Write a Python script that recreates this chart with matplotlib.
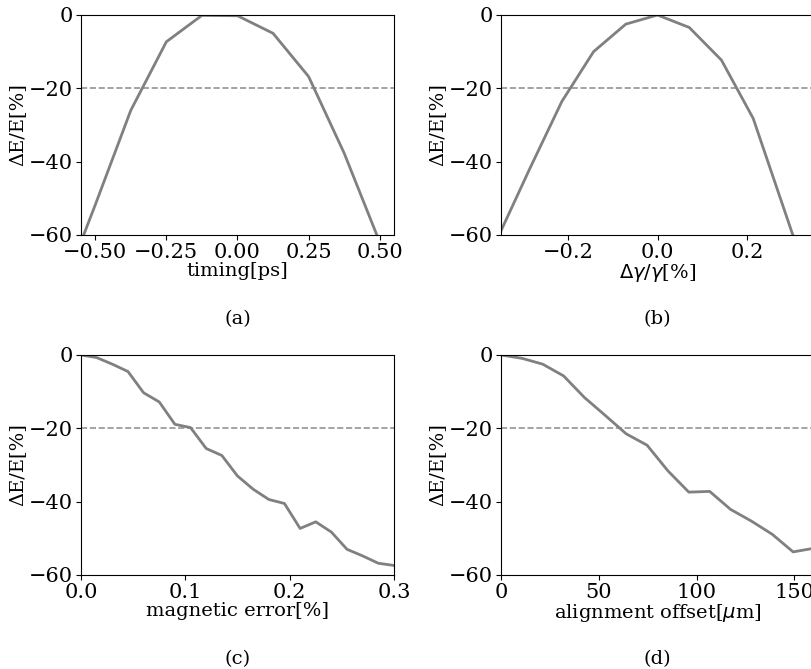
import matplotlib
matplotlib.use("Agg")
import matplotlib.pyplot as plt

plt.rcParams['font.family'] = 'DejaVu Serif'
plt.rcParams['font.size'] = 14
plt.rcParams['xtick.labelsize'] = 15
plt.rcParams['ytick.labelsize'] = 15

# (a) timing scan
timing_x = [-0.625, -0.5, -0.375, -0.25, -0.125, 0.0, 0.125, 0.25, 0.375, 0.5]
timing_y = [-77.0, -51.8, -26.0, -7.3, -0.1, -0.2, -5.0, -16.8, -37.7, -62.0]

# (b) energy spread scan
gamma_x = [-0.357, -0.286, -0.214, -0.143, -0.071, 0.0, 0.071, 0.143, 0.214, 0.357]
gamma_y = [-60.7, -42.0, -23.6, -10.0, -2.5, 0.0, -3.4, -12.3, -28.2, -79.5]

# (c) magnetic error scan
mag_x = [0.0, 0.015, 0.03, 0.045, 0.06, 0.075, 0.09, 0.105, 0.12, 0.135, 0.15,
         0.165, 0.18, 0.195, 0.21, 0.225, 0.24, 0.255, 0.27, 0.285, 0.3]
mag_y = [0.0, -0.7, -2.5, -4.5, -10.3, -12.8, -18.9, -19.8, -25.5, -27.4, -33.0,
         -36.6, -39.4, -40.5, -47.3, -45.5, -48.3, -53.0, -54.8, -56.8, -57.4]

# (d) alignment offset scan
align_x = [0.0, 10.67, 21.33, 32.0, 42.67, 53.33, 64.0, 74.67, 85.33, 96.0,
           106.67, 117.33, 128.0, 138.67, 149.33, 160.0]
align_y = [0.0, -0.9, -2.5, -5.7, -11.6, -16.5, -21.5, -24.6, -31.6, -37.4,
           -37.2, -42.1, -45.3, -48.9, -53.7, -52.7]

threshold = -20

panels = [
    (timing_x, timing_y, "timing[ps]", (-0.55, 0.55), [-0.5, -0.25, 0, 0.25, 0.5], "{:.2f}", "(a)"),
    (gamma_x, gamma_y, r"$\Delta\gamma/\gamma$[%]", (-0.35, 0.35), [-0.2, 0, 0.2], "{:.1f}", "(b)"),
    (mag_x, mag_y, "magnetic error[%]", (0, 0.3), [0, 0.1, 0.2, 0.3], "{:.1f}", "(c)"),
    (align_x, align_y, r"alignment offset[$\mu$m]", (0, 160), [0, 50, 100, 150], "{:.0f}", "(d)"),
]

W, H = 812, 669
fig = plt.figure(figsize=(W / 100, H / 100), dpi=100)

# caixas dos eixos em pixels: esquerda, topo
boxes = [(81, 15), (501, 15), (81, 355), (501, 355)]
aw, ah = 313, 220

for (x, y, xlabel, xlim, xt, fmt, tag), (l, t) in zip(panels, boxes):
    ax = fig.add_axes([l / W, 1 - (t + ah) / H, aw / W, ah / H])
    ax.plot(x, y, color="gray", lw=2)
    ax.axhline(threshold, color="gray", lw=1.2, ls="--", alpha=0.85)
    ax.set_xlim(*xlim)
    ax.set_ylim(-60, 0)
    ax.set_yticks([0, -20, -40, -60])
    ax.set_xticks(xt)
    ax.set_xticklabels([fmt.format(v).replace("-", "\u2212") for v in xt])
    ax.tick_params(pad=2)
    ax.set_xlabel(xlabel, labelpad=0)
    ax.set_ylabel("ΔE/E[%]", labelpad=2)
    fig.text((l + aw / 2) / W, 1 - (t + 304) / H, tag, ha="center", va="center")

fig.savefig("out.png", dpi=100)
